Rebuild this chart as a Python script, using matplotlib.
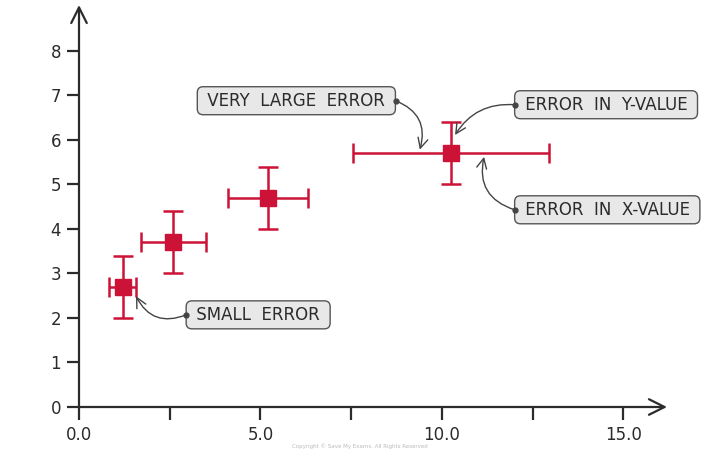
import matplotlib
matplotlib.use("Agg")
import matplotlib.pyplot as plt

# data
x_vals = [1.2, 2.6, 5.2, 10.25]
y_vals = [2.7, 3.7, 4.7, 5.7]
x_err = [0.38, 0.9, 1.1, 2.7]
y_err = [0.7, 0.7, 0.7, 0.7]

y_ticks = [0, 1, 2, 3, 4, 5, 6, 7, 8]
x_ticks = [0, 2.5, 5, 7.5, 10, 12.5, 15]
x_tick_labels = ["0.0", "", "5.0", "", "10.0", "", "15.0"]

# callouts: text, dot (arrow tail on box edge), side of box, arrow tip, curvature
callout_texts = ["VERY  LARGE  ERROR", "ERROR  IN  Y-VALUE",
                 "ERROR  IN  X-VALUE", "SMALL  ERROR"]
callout_dot = [(8.72, 6.88), (12.0, 6.79), (12.0, 4.43), (2.95, 2.07)]
callout_ha = ["right", "left", "left", "left"]
callout_tip = [(9.39, 5.78), (10.36, 6.11), (11.16, 5.62), (1.57, 2.49)]
callout_rad = [-0.45, 0.3, -0.45, -0.45]

RED = "#cc1236"
INK = "#2b2b2b"

fig = plt.figure(figsize=(7.2, 4.54), dpi=100)
ax = fig.add_axes([79 / 720, 47 / 454, 588 / 720, 402 / 454])
ax.set_xlim(0, 16.2)
ax.set_ylim(0, 9.03)

for s in ax.spines.values():
    s.set_visible(False)

# axes with open arrow heads
ax.annotate("", xy=(16.2, 0), xytext=(0, 0), annotation_clip=False,
            arrowprops=dict(arrowstyle="->", lw=1.6, color=INK,
                            mutation_scale=28, shrinkA=0, shrinkB=0))
ax.annotate("", xy=(0, 9.03), xytext=(0, 0), annotation_clip=False,
            arrowprops=dict(arrowstyle="->", lw=1.6, color=INK,
                            mutation_scale=28, shrinkA=0, shrinkB=0))

ax.set_xticks(x_ticks)
ax.set_xticklabels(x_tick_labels)
ax.set_yticks(y_ticks)
ax.tick_params(axis="both", direction="out", length=9, width=1.6,
               color=INK, labelcolor=INK, labelsize=12, pad=4)
ax.tick_params(axis="x", pad=5)

ax.errorbar(x_vals, y_vals, xerr=x_err, yerr=y_err, fmt="s", color=RED,
            ms=11, elinewidth=1.8, capsize=7, capthick=1.8, zorder=3)

pad_x = 0.14  # bbox pad in data units, so the dot sits on the box edge
for txt, dot, ha, tip, rad in zip(callout_texts, callout_dot, callout_ha,
                                  callout_tip, callout_rad):
    tx = dot[0] + pad_x if ha == "left" else dot[0] - pad_x
    ax.text(tx, dot[1], " " + txt + " ", ha=ha, va="center", fontsize=12,
            color=INK,
            bbox=dict(boxstyle="round,pad=0.3,rounding_size=0.35",
                      fc="#e8e8e8", ec="#555555", lw=1.0))
    ax.annotate("", xy=tip, xytext=dot,
                arrowprops=dict(arrowstyle="->", lw=1.0, color="#444444",
                                mutation_scale=18, shrinkA=0, shrinkB=0,
                                connectionstyle=f"arc3,rad={rad}"))
    ax.plot(*dot, "o", ms=3.5, color="#444444", zorder=4)

fig.text(0.5, 0.012, "Copyright \u00a9 Save My Exams. All Rights Reserved",
         ha="center", va="bottom", fontsize=4, color="#bbbbbb")

fig.savefig("out.png", dpi=100)
